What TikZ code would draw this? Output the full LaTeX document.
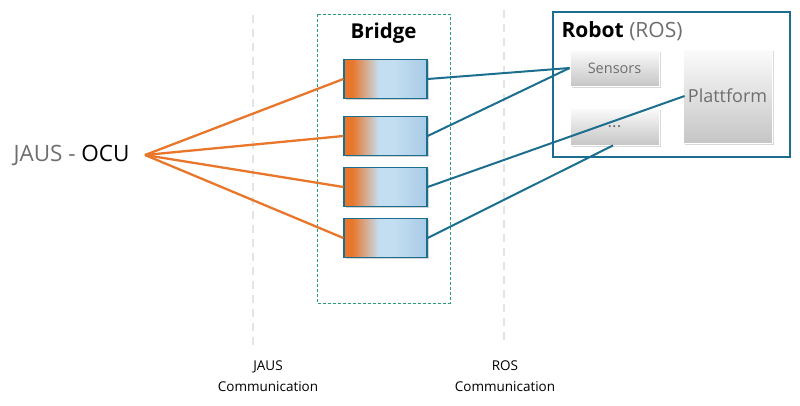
\documentclass[tikz,border=0pt]{standalone}
\usepackage{fontspec}
\setmainfont{Open Sans}
\usetikzlibrary{shadows}

\definecolor{ocuorange}{HTML}{E8762B}
\definecolor{rosteal}{HTML}{1B6E8E}
\definecolor{bridgelight}{HTML}{C4DEF1}
\definecolor{bridgeblue}{HTML}{A8CBE6}
\definecolor{bridgegreen}{HTML}{2A9D7F}
\definecolor{textgray}{HTML}{6E6E6E}
\definecolor{guidegray}{HTML}{E4E4E4}

\pgfdeclarehorizontalshading{bridgeshade}{100bp}{color(0bp)=(ocuorange); color(30bp)=(ocuorange); color(46bp)=(bridgelight); color(55bp)=(bridgelight); color(75bp)=(bridgeblue); color(100bp)=(bridgeblue)}

\tikzset{
    bridgecell/.style={draw=rosteal, line width=1.2pt, shading=bridgeshade,
        minimum width=83pt, minimum height=39pt, inner sep=0pt,
        drop shadow={shadow xshift=1.5pt, shadow yshift=-1.5pt, opacity=0.35}},
    rospart/.style={draw=white, line width=0.8pt, top color=white!97!gray, bottom color=gray!45,
        minimum width=89pt, inner sep=0pt, text=textgray,
        drop shadow={shadow xshift=1.5pt, shadow yshift=-1.5pt, opacity=0.3}},
    jausline/.style={ocuorange, line width=2.3pt},
    rosline/.style={rosteal, line width=2pt},
    guide/.style={guidegray, line width=1.8pt, dash pattern=on 8pt off 6pt},
    commlabel/.style={align=center, font=\fontsize{13.5}{21}\selectfont}
}

\begin{document}
\begin{tikzpicture}[x=1pt, y=-1pt]
    \useasboundingbox (0,0) rectangle (800,405);

    % Communication guides
    \draw[guide] (253,15) -- (253,345);
    \draw[guide] (504,10) -- (504,340);
    \node[commlabel] (jauscomm) at (268,376) {JAUS\\Communication};
    \node[commlabel] (roscomm) at (505,376) {ROS\\Communication};

    % Bridge
    \draw[bridgegreen, line width=0.8pt, dash pattern=on 3pt off 2pt] (317,14) rectangle (450,303);
    \node[font=\fontsize{20.5}{22}\selectfont\bfseries] (bridgetitle) at (383.5,33) {Bridge};
    \foreach \i/\y in {1/79, 2/136, 3/187, 4/238} {
        \node[bridgecell] (cell\i) at (385.5,\y) {};
    }

    % Robot (ROS)
    \node[draw=rosteal, line width=2pt, minimum width=237pt, minimum height=145pt] (robot) at (671.5,84.5) {};
    \node[anchor=west, font=\fontsize{21}{23}\selectfont] (robottitle) at (558,31) {\textbf{Robot} \textcolor{textgray}{(ROS)}};
    \node[rospart, minimum height=36pt, font=\fontsize{14.5}{16}\selectfont] (sensors) at (614.5,68) {Sensors};
    \node[rospart, minimum height=37pt, font=\fontsize{17}{18}\selectfont] (dots) at (614.5,126.5) {...};
    \node[rospart, minimum height=94pt, font=\fontsize{18}{20}\selectfont] (plattform) at (727.5,96) {Plattform};

    % OCU
    \node[anchor=west, font=\fontsize{22.5}{25}\selectfont] (ocu) at (10,155) {\textcolor{textgray}{JAUS -} OCU};
    \coordinate (ocuport) at (145,155);

    % JAUS links
    \foreach \i in {1,2,3,4} {
        \draw[jausline] (ocuport) -- (cell\i.west);
    }

    % ROS links
    \draw[rosline] (cell1.east) -- (sensors.west);
    \draw[rosline] (cell2.east) -- (sensors.west);
    \draw[rosline] (cell3.east) -- ([xshift=2pt]plattform.west);
    \draw[rosline] (cell4.east) -- ([xshift=-1.5pt]dots.south);
\end{tikzpicture}
\end{document}
